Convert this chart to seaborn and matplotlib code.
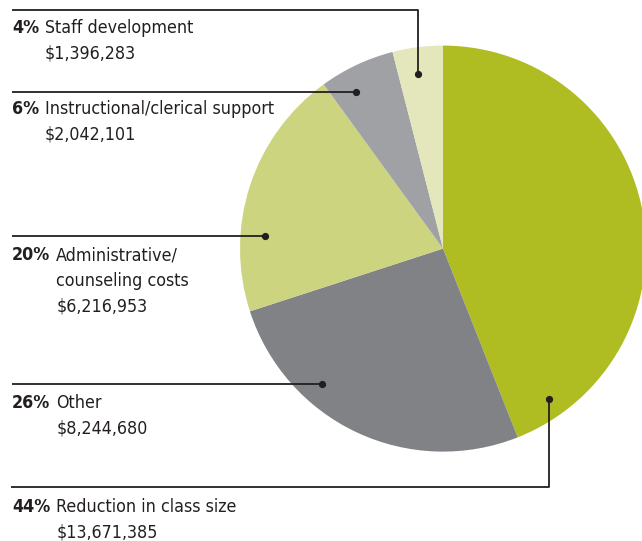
import matplotlib
matplotlib.use("Agg")
import matplotlib.pyplot as plt
import seaborn as sns

# Budget categories, in drawing order (clockwise from 12 o'clock)
categories = ["Reduction in class size", "Other", "Administrative/\ncounseling costs",
              "Instructional/clerical support", "Staff development"]
percents = [44, 26, 20, 6, 4]
amounts = [13671385, 8244680, 6216953, 2042101, 1396283]
slice_colors = ["#b0bd22", "#808285", "#cdd47f", "#a0a1a5", "#e3e7bb"]

sns.set_theme(style="white")
plt.rcParams["font.family"] = ["DejaVu Sans"]
plt.rcParams["font.stretch"] = "condensed"

W, H = 642, 541
INK = "#231f20"

fig = plt.figure(figsize=(W / 100, H / 100), dpi=100)
ax = fig.add_axes([0, 0, 1, 1])

palette = sns.color_palette(slice_colors)
cx, cy, R = 443, 248.6, 203
ax.pie(percents, colors=palette, startangle=-90, counterclock=True,
       center=(cx, cy), radius=R, wedgeprops=dict(linewidth=0))

ax.set_xlim(0, W)
ax.set_ylim(H, 0)
ax.set_aspect("auto")
ax.axis("off")

# Leader lines: dot position first, then the elbow path to the left margin
leaders = {
    "Staff development": [(417.5, 74), (417.5, 10), (12, 10)],
    "Instructional/clerical support": [(356, 91.7), (12, 91.7)],
    "Administrative/\ncounseling costs": [(265, 236), (12, 236)],
    "Other": [(322, 384), (12, 384)],
    "Reduction in class size": [(549, 399), (549, 486.5), (11, 486.5)],
}
# Baseline of the first line of each label block
baselines = {
    "Staff development": 33,
    "Instructional/clerical support": 113.5,
    "Administrative/\ncounseling costs": 260.5,
    "Other": 408.5,
    "Reduction in class size": 511.5,
}
line_step = 25.5
fs = 12.8

fig.canvas.draw()
renderer = fig.canvas.get_renderer()
inv = ax.transData.inverted()

for cat, pct, amt in zip(categories, percents, amounts):
    pts = leaders[cat]
    xs = [p[0] for p in pts]
    ys = [p[1] for p in pts]
    ax.plot(xs, ys, color=INK, lw=1.3, solid_capstyle="butt", zorder=5)
    ax.plot([pts[0][0]], [pts[0][1]], "o", color=INK, ms=4.2, zorder=6)

    y0 = baselines[cat]
    t = ax.text(12, y0, f"{pct}%", fontsize=fs, fontweight="bold", color=INK,
                ha="left", va="baseline")
    bb = t.get_window_extent(renderer)
    x_name = inv.transform((bb.x1, bb.y0))[0] + 6
    lines = cat.split("\n") + [f"${amt:,}"]
    for i, s in enumerate(lines):
        ax.text(x_name, y0 + i * line_step, s, fontsize=fs, color=INK,
                ha="left", va="baseline")

fig.savefig("out.png", dpi=100)
